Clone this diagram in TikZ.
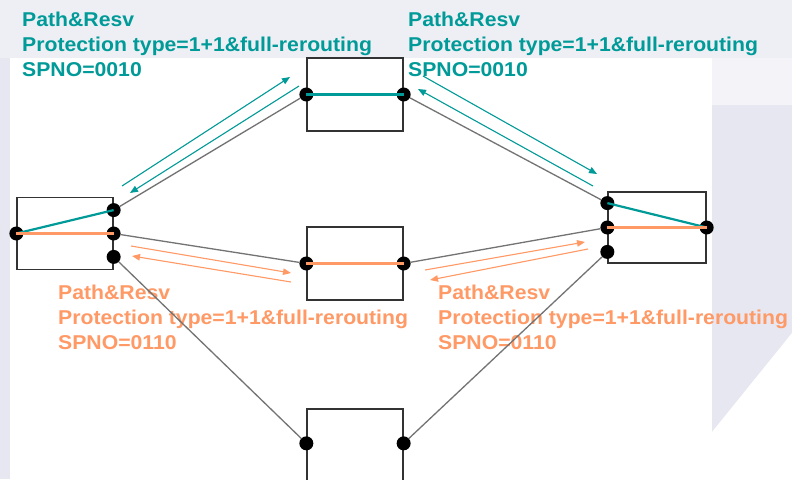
\documentclass[tikz,border=0pt]{standalone}
\usepackage{fontspec}
\setmainfont{Liberation Sans}
\newfontfamily\lblfont[FakeStretch=1.06]{Liberation Sans}
\usepackage{xcolor}
\usetikzlibrary{arrows.meta, positioning}

\definecolor{pathteal}{HTML}{009A98}
\definecolor{pathorange}{HTML}{FF9966}
\definecolor{bglav}{HTML}{E6E7F1}
\definecolor{bgtop}{HTML}{EEEFF5}
\definecolor{bgpale}{HTML}{F4F4F8}

\begin{document}
\begin{tikzpicture}[
  x=1pt, y=-1pt,
  box/.style={draw=black!80, line width=1.3pt, fill=white, minimum width=96pt,
              minimum height=72pt, inner sep=0pt},
  port/.style={circle, fill=black, inner sep=0pt, minimum size=14pt},
  link/.style={draw=black!55, line width=1.3pt},
  wteal/.style={draw=pathteal, line width=2.2pt},
  worange/.style={draw=pathorange, line width=2.8pt},
  msg/.style={-{Triangle[length=8pt, width=6.5pt]}, line width=1.1pt},
  lbl/.style={font=\lblfont\fontsize{20}{25}\selectfont\bfseries, align=left,
              anchor=north west, inner sep=0pt},
  node distance=9pt
]
  \useasboundingbox (0,0) rectangle (792,479);
  \clip (0,0) rectangle (792,479);

  % background
  \fill[bglav] (0,0) rectangle (792,479);
  \fill[bgtop] (0,0) rectangle (792,58);
  \fill[white] (10,58) rectangle (712,479);
  \fill[bgpale] (712,58) rectangle (792,105);
  \fill[white] (712,432) -- (792,333) -- (792,479) -- (712,479) -- cycle;

  % labels
  \node[lbl, text=pathteal] (tl) at (22,12)
    {Path\&Resv\\Protection type=1+1\&full-rerouting\\SPNO=0010};
  \node[lbl, text=pathteal] (tr) at (408,12)
    {Path\&Resv\\Protection type=1+1\&full-rerouting\\SPNO=0010};
  \node[lbl, text=pathorange] (ol) at (58,285)
    {Path\&Resv\\Protection type=1+1\&full-rerouting\\SPNO=0110};
  \node[lbl, text=pathorange] (or) at (438,285)
    {Path\&Resv\\Protection type=1+1\&full-rerouting\\SPNO=0110};

  % nodes
  \node[box] (A) at (65,233.5) {};
  \node[box, minimum height=73pt] (B) at (355,94.5) {};
  \node[box, minimum height=73pt] (C) at (355,263.5) {};
  \node[box, minimum width=98pt, minimum height=71pt] (D) at (657,227.5) {};
  \node[box, minimum height=102pt] (E) at (355,460) {};

  \node[port] (a0) at (A.west) {};
  \node[port] (a2) at (A.east) {};
  \node[port, above=of a2] (a1) {};
  \node[port, below=of a2] (a3) {};
  \node[port] (b1) at (B.west) {};
  \node[port] (b2) at (B.east) {};
  \node[port] (c1) at (C.west) {};
  \node[port] (c2) at (C.east) {};
  \node[port] (d2) at (D.west) {};
  \node[port, above=10pt of d2] (d1) {};
  \node[port, below=10pt of d2] (d3) {};
  \node[port] (d0) at (D.east) {};
  \node[port] (e1) at ([yshift=-35pt]E.north west) {};
  \node[port] (e2) at ([yshift=-35pt]E.north east) {};

  % links
  \draw[link] (a1) -- (b1);
  \draw[link] (b2) -- (d1);
  \draw[link] (a2) -- (c1);
  \draw[link] (c2) -- (d2);
  \draw[link] (a3) -- (e1);
  \draw[link] (e2) -- (d3);

  % cross connects
  \draw[wteal] (a0.center) -- (a1.center);
  \draw[wteal] (b1.center) -- (b2.center);
  \draw[wteal] (d1.center) -- (d0.center);
  \draw[worange] (a0.center) -- (a2.center);
  \draw[worange] (c1.center) -- (c2.center);
  \draw[worange] (d2.center) -- (d0.center);

  % signalling messages
  \coordinate (m1s) at (122,186); \coordinate (m1e) at (290,77);
  \coordinate (m2s) at (299,86);  \coordinate (m2e) at (130,193);
  \coordinate (m3s) at (423,76);  \coordinate (m3e) at (597,174);
  \coordinate (m4s) at (593,186); \coordinate (m4e) at (418,89);
  \coordinate (m5s) at (131,246); \coordinate (m5e) at (291,273);
  \coordinate (m6s) at (291,282); \coordinate (m6e) at (132,256);
  \coordinate (m7s) at (425,270); \coordinate (m7e) at (585,242);
  \coordinate (m8s) at (588,249); \coordinate (m8e) at (430,280);

  \draw[msg, pathteal] (m1s) -- (m1e);
  \draw[msg, pathteal] (m2s) -- (m2e);
  \draw[msg, pathteal] (m3s) -- (m3e);
  \draw[msg, pathteal] (m4s) -- (m4e);
  \draw[msg, pathorange] (m5s) -- (m5e);
  \draw[msg, pathorange] (m6s) -- (m6e);
  \draw[msg, pathorange] (m7s) -- (m7e);
  \draw[msg, pathorange] (m8s) -- (m8e);
\end{tikzpicture}
\end{document}
